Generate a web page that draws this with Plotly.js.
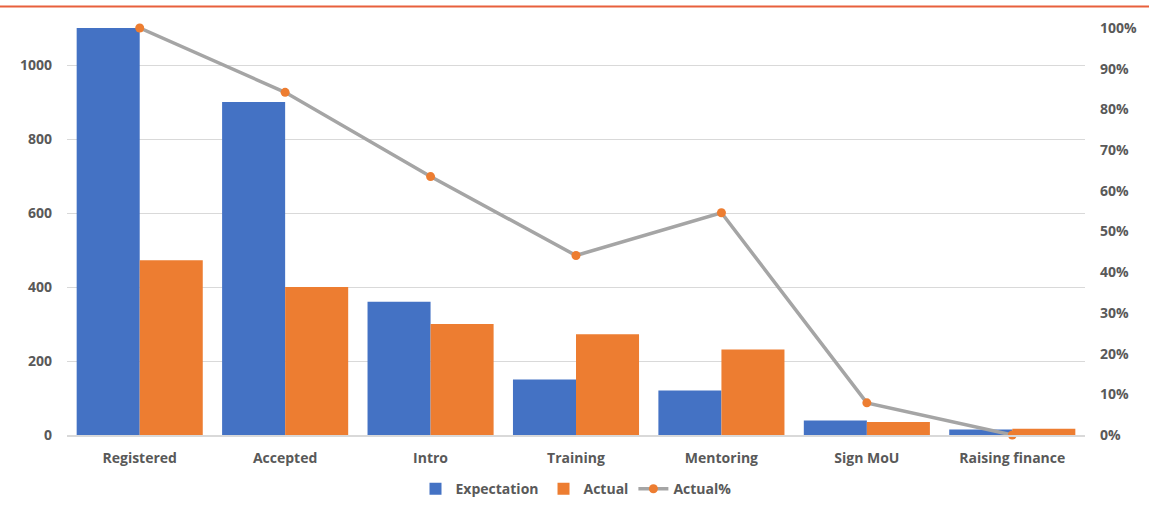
<!DOCTYPE html>
<html>
<head>
<meta charset="utf-8">
<script src="https://cdn.plot.ly/plotly-3.0.1.min.js"></script>
<style>
html,body{margin:0;padding:0;background:#fff;}
#chart{width:1149px;height:513px;}
</style>
</head>
<body>
<div id="chart"></div>
<script>
var categories = ["Registered", "Accepted", "Intro", "Training", "Mentoring", "Sign MoU", "Raising finance"];
var expectation = [1100, 900, 360, 150, 120, 39, 15];
var actual = [472, 400, 300, 272, 231, 35, 17];
var actualPct = [1.0, 0.842, 0.635, 0.441, 0.546, 0.079, 0.0];
var leftTicks = [0, 200, 400, 600, 800, 1000];

var fontFamily = "'Open Sans', 'Noto Sans', sans-serif";
var textColor = "#595959";

var traces = [
  {
    type: "bar", name: "Expectation", x: categories, y: expectation,
    marker: {color: "#4472C4"}, yaxis: "y"
  },
  {
    type: "bar", name: "Actual", x: categories, y: actual,
    marker: {color: "#ED7D31"}, yaxis: "y"
  },
  {
    type: "scatter", mode: "lines+markers", name: "Actual%", x: categories, y: actualPct,
    line: {color: "#A5A5A5", width: 3.5},
    marker: {color: "#ED7D31", size: 9},
    yaxis: "y2", cliponaxis: false
  }
];

var layout = {
  width: 1149, height: 513,
  margin: {l: 67, r: 64, t: 27.5, b: 77.5, autoexpand: false},
  paper_bgcolor: "#ffffff", plot_bgcolor: "#ffffff",
  barmode: "group", bargap: 0.133, bargroupgap: 0,
  font: {family: fontFamily, color: textColor, size: 14, weight: "bold"},
  showlegend: true,
  legend: {
    orientation: "h", x: 0.5, xanchor: "center", y: -0.133, yanchor: "middle",
    font: {family: fontFamily, color: textColor, size: 14, weight: "bold"},
    traceorder: "normal"
  },
  xaxis: {
    type: "category", showgrid: false, showline: true, linecolor: "#D9D9D9", linewidth: 1.5,
    ticks: "", tickfont: {family: fontFamily, color: textColor, size: 14, weight: "bold"},
    ticklabelstandoff: 10
  },
  yaxis: {
    range: [0, 1100], tickvals: leftTicks, ticktext: leftTicks.map(String),
    showgrid: true, gridcolor: "#D9D9D9", gridwidth: 1, zeroline: false,
    showline: false, ticks: "", ticklabelstandoff: 14,
    tickfont: {family: fontFamily, color: textColor, size: 14, weight: "bold"}
  },
  yaxis2: {
    overlaying: "y", side: "right", range: [0, 1], dtick: 0.1, tick0: 0,
    tickformat: ".0%", showgrid: false, zeroline: false, showline: false, ticks: "",
    ticklabelstandoff: 14,
    tickfont: {family: fontFamily, color: textColor, size: 14, weight: "bold"}
  },
  shapes: [
    {type: "line", xref: "paper", yref: "paper", x0: -0.07, x1: 1.07, y0: 1.0527, y1: 1.0527,
     line: {color: "#E8603C", width: 2}}
  ]
};

Plotly.newPlot("chart", traces, layout, {displayModeBar: false, staticPlot: true});
</script>
</body>
</html>
